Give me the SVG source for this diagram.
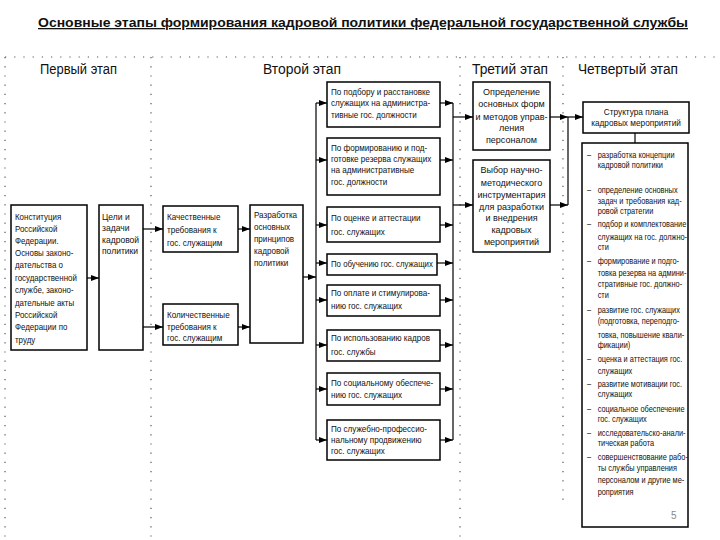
<svg xmlns="http://www.w3.org/2000/svg" width="720" height="540" viewBox="0 0 720 540">
<defs>
<marker id="ah" viewBox="0 0 8 6" refX="8" refY="3" markerWidth="8" markerHeight="6" markerUnits="userSpaceOnUse" orient="auto">
<path d="M0,0 L8,3 L0,6 Z" fill="#000"/>
</marker>
<style>
.box{fill:#fff;stroke:#000;stroke-width:1.5}
.t{font-family:"Liberation Sans",Arial,sans-serif;font-size:9px;fill:#111}
.c{text-anchor:middle}
.h{font-family:"Liberation Sans",Arial,sans-serif;font-size:14px;fill:#111}
.dot{stroke:#555;stroke-width:1.2;stroke-dasharray:1.2 8;fill:none}
.ln{stroke:#000;stroke-width:1.2;fill:none}
.ar{stroke:#000;stroke-width:1.2;fill:none;marker-end:url(#ah)}
</style>
</defs>
<rect width="720" height="540" fill="#fff"/>
<g id="title">
<text x="38" y="27" font-family="'Liberation Sans',Arial,sans-serif" font-size="13" font-weight="bold" text-decoration="underline" textLength="650" lengthAdjust="spacingAndGlyphs" fill="#111">Основные этапы формирования кадровой политики федеральной государственной службы</text>
</g>
<g id="frame">
<line class="dot" x1="5" y1="57" x2="716" y2="57"/>
<line class="dot" x1="5" y1="57" x2="5" y2="540"/>
<line class="dot" x1="151" y1="57" x2="151" y2="540"/>
<line class="dot" x1="460" y1="57" x2="460" y2="540"/>
<line class="dot" x1="563" y1="57" x2="563" y2="500"/>
</g>
<g id="headers">
<text class="h" x="40" y="74" textLength="77" lengthAdjust="spacingAndGlyphs">Первый этап</text>
<text class="h" x="263" y="74" textLength="78" lengthAdjust="spacingAndGlyphs">Второй этап</text>
<text class="h" x="472" y="74" textLength="76" lengthAdjust="spacingAndGlyphs">Третий этап</text>
<text class="h" x="578" y="74" textLength="100" lengthAdjust="spacingAndGlyphs">Четвертый этап</text>
</g>
<g id="connectors">
<line class="ar" x1="87" y1="278" x2="99" y2="278"/>
<line class="ar" x1="143" y1="229" x2="163" y2="229"/>
<line class="ar" x1="143" y1="327" x2="163" y2="327"/>
<line class="ar" x1="238" y1="229" x2="250" y2="229"/>
<line class="ar" x1="238" y1="327" x2="250" y2="327"/>
<line class="ar" x1="303" y1="277" x2="316" y2="277"/>
<line class="ln" x1="316" y1="103" x2="316" y2="440"/>
<line class="ar" x1="316" y1="103" x2="327" y2="103"/>
<line class="ar" x1="316" y1="160" x2="327" y2="160"/>
<line class="ar" x1="316" y1="225" x2="327" y2="225"/>
<line class="ar" x1="316" y1="263" x2="327" y2="263"/>
<line class="ar" x1="316" y1="300" x2="327" y2="300"/>
<line class="ar" x1="316" y1="345" x2="327" y2="345"/>
<line class="ar" x1="316" y1="389" x2="327" y2="389"/>
<line class="ar" x1="316" y1="440" x2="327" y2="440"/>
<line class="ln" x1="453" y1="103" x2="453" y2="440"/>
<line class="ar" x1="440" y1="103" x2="453" y2="103"/>
<line class="ar" x1="440" y1="160" x2="453" y2="160"/>
<line class="ar" x1="440" y1="225" x2="453" y2="225"/>
<line class="ar" x1="437" y1="263" x2="453" y2="263"/>
<line class="ar" x1="440" y1="300" x2="453" y2="300"/>
<line class="ar" x1="440" y1="345" x2="453" y2="345"/>
<line class="ar" x1="440" y1="389" x2="453" y2="389"/>
<line class="ar" x1="440" y1="440" x2="453" y2="440"/>
<line class="ar" x1="453" y1="117" x2="473" y2="117"/>
<line class="ar" x1="453" y1="205" x2="473" y2="205"/>
<line class="ar" x1="550" y1="117" x2="568" y2="117"/>
<line class="ar" x1="550" y1="205" x2="568" y2="205"/>
<line class="ln" x1="568" y1="117" x2="568" y2="205"/>
<line class="ar" x1="568" y1="117" x2="583" y2="117"/>
<line class="ln" x1="635" y1="133" x2="635" y2="143"/>
</g>
<g id="n-konst">
<rect class="box" x="11" y="205" width="76" height="145"/>
<g class="t" transform="matrix(0.88,0,0,1,1.8,0)">
<text x="15" y="220">Конституция</text>
<text x="15" y="232">Российской</text>
<text x="15" y="244">Федерации.</text>
<text x="15" y="256">Основы законо-</text>
<text x="15" y="268">дательства о</text>
<text x="15" y="281">государственной</text>
<text x="15" y="293">службе, законо-</text>
<text x="15" y="306">дательные акты</text>
<text x="15" y="318">Российской</text>
<text x="15" y="330">Федерации по</text>
<text x="15" y="343">труду</text>
</g>
</g>
<g id="n-celi">
<rect class="box" x="99" y="205" width="44" height="145"/>
<g class="t" transform="matrix(0.95,0,0,1,5.1,0)">
<text x="102" y="220">Цели и</text>
<text x="102" y="231">задачи</text>
<text x="102" y="243">кадровой</text>
<text x="102" y="254">политики</text>
</g>
</g>
<g id="n-kach">
<rect class="box" x="163" y="206" width="75" height="46"/>
<g class="t" transform="matrix(0.9,0,0,1,16.7,0)">
<text x="167" y="220">Качественные</text>
<text x="167" y="233">требования к</text>
<text x="167" y="246">гос. служащим</text>
</g>
</g>
<g id="n-kol">
<rect class="box" x="163" y="304" width="75" height="41"/>
<g class="t" transform="matrix(0.9,0,0,1,16.7,0)">
<text x="167" y="318">Количественные</text>
<text x="167" y="330">требования к</text>
<text x="167" y="341">гос. служащим</text>
</g>
</g>
<g id="n-razr">
<rect class="box" x="250" y="205" width="53" height="138"/>
<g class="t" transform="matrix(0.9,0,0,1,25.4,0)">
<text x="254" y="218">Разработка</text>
<text x="254" y="230">основных</text>
<text x="254" y="242">принципов</text>
<text x="254" y="254">кадровой</text>
<text x="254" y="266">политики</text>
</g>
</g>
<g id="n-s1">
<rect class="box" x="327" y="82" width="113" height="45"/>
<g class="t" transform="matrix(0.9,0,0,1,33.1,0)">
<text x="331" y="95">По подбору и расстановке</text>
<text x="331" y="106">служащих на администра-</text>
<text x="331" y="118">тивные гос. должности</text>
</g>
</g>
<g id="n-s2">
<rect class="box" x="327" y="138" width="113" height="57"/>
<g class="t" transform="matrix(0.9,0,0,1,33.1,0)">
<text x="331" y="151">По формированию и под-</text>
<text x="331" y="162">готовке резерва служащих</text>
<text x="331" y="173">на административные</text>
<text x="331" y="185">гос. должности</text>
</g>
</g>
<g id="n-s3">
<rect class="box" x="327" y="207" width="113" height="35"/>
<g class="t" transform="matrix(0.9,0,0,1,33.1,0)">
<text x="331" y="221">По оценке и аттестации</text>
<text x="331" y="235">гос. служащих</text>
</g>
</g>
<g id="n-s4">
<rect class="box" x="327" y="254" width="110" height="21"/>
<g class="t" transform="matrix(0.87,0,0,1,43.03,0)">
<text x="331" y="267">По обучению гос. служащих</text>
</g>
</g>
<g id="n-s5">
<rect class="box" x="327" y="285" width="113" height="31"/>
<g class="t" transform="matrix(0.9,0,0,1,33.1,0)">
<text x="331" y="296">По оплате и стимулирова-</text>
<text x="331" y="309">нию гос. служащих</text>
</g>
</g>
<g id="n-s6">
<rect class="box" x="327" y="330" width="113" height="31"/>
<g class="t" transform="matrix(0.9,0,0,1,33.1,0)">
<text x="331" y="341">По использованию кадров</text>
<text x="331" y="355">гос. службы</text>
</g>
</g>
<g id="n-s7">
<rect class="box" x="327" y="373" width="113" height="32"/>
<g class="t" transform="matrix(0.9,0,0,1,33.1,0)">
<text x="331" y="386">По социальному обеспече-</text>
<text x="331" y="398">нию гос. служащих</text>
</g>
</g>
<g id="n-s8">
<rect class="box" x="327" y="420" width="113" height="40"/>
<g class="t" transform="matrix(0.9,0,0,1,33.1,0)">
<text x="331" y="432">По служебно-профессио-</text>
<text x="331" y="443">нальному продвижению</text>
<text x="331" y="454">гос. служащих</text>
</g>
</g>
<g id="n-opr">
<rect class="box" x="473" y="82" width="77" height="68"/>
<text class="t c" x="511.5" y="95">Определение</text>
<text class="t c" x="511.5" y="107">основных форм</text>
<text class="t c" x="511.5" y="120">и методов управ-</text>
<text class="t c" x="511.5" y="131">ления</text>
<text class="t c" x="511.5" y="143">персоналом</text>
</g>
<g id="n-vyb">
<rect class="box" x="473" y="160" width="77" height="92"/>
<text class="t c" x="511.5" y="173">Выбор научно-</text>
<text class="t c" x="511.5" y="186">методического</text>
<text class="t c" x="511.5" y="198">инструментария</text>
<text class="t c" x="511.5" y="210">для разработки</text>
<text class="t c" x="511.5" y="221">и внедрения</text>
<text class="t c" x="511.5" y="233">кадровых</text>
<text class="t c" x="511.5" y="245">мероприятий</text>
</g>
<g id="n-struct">
<rect class="box" x="583" y="102" width="106" height="31"/>
<g class="t c" transform="matrix(0.92,0,0,1,50.9,0)">
<text x="636" y="115">Структура плана</text>
<text x="636" y="126">кадровых мероприятий</text>
</g>
</g>
<g id="n-list">
<rect class="box" x="582" y="143" width="106" height="384"/>
<g class="t" transform="matrix(0.82,0,0,1,105.66,0)">
<text x="587" y="158">–</text><text x="600" y="158">разработка концепции</text>
<text x="600" y="168">кадровой политики</text>
<text x="587" y="193">–</text><text x="600" y="193">определение основных</text>
<text x="600" y="204">задач и требования кад-</text>
<text x="600" y="214">ровой стратегии</text>
<text x="587" y="227">–</text><text x="600" y="227">подбор и комплектование</text>
<text x="600" y="240">служащих на гос. должно-</text>
<text x="600" y="250">сти</text>
<text x="587" y="264">–</text><text x="600" y="264">формирование и подго-</text>
<text x="600" y="276">товка резерва на админи-</text>
<text x="600" y="287">стративные гос. должно-</text>
<text x="600" y="298">сти</text>
<text x="587" y="313">–</text><text x="600" y="313">развитие гос. служащих</text>
<text x="600" y="324">(подготовка, переподго-</text>
<text x="600" y="338">товка, повышение квали-</text>
<text x="600" y="348">фикации)</text>
<text x="587" y="362">–</text><text x="600" y="362">оценка и аттестация гос.</text>
<text x="600" y="374">служащих</text>
<text x="587" y="387">–</text><text x="600" y="387">развитие мотивации гос.</text>
<text x="600" y="397">служащих</text>
<text x="587" y="412">–</text><text x="600" y="412">социальное обеспечение</text>
<text x="600" y="422">гос. служащих</text>
<text x="587" y="436">–</text><text x="600" y="436">исследовательско-анали-</text>
<text x="600" y="446">тическая работа</text>
<text x="587" y="460">–</text><text x="600" y="460">совершенствование рабо-</text>
<text x="600" y="471">ты службы управления</text>
<text x="600" y="483">персоналом и другие ме-</text>
<text x="600" y="495">роприятия</text>
</g>
<text x="671" y="519" font-family="'Liberation Sans',Arial,sans-serif" font-size="10" fill="#888">5</text>
</g>
</svg>
